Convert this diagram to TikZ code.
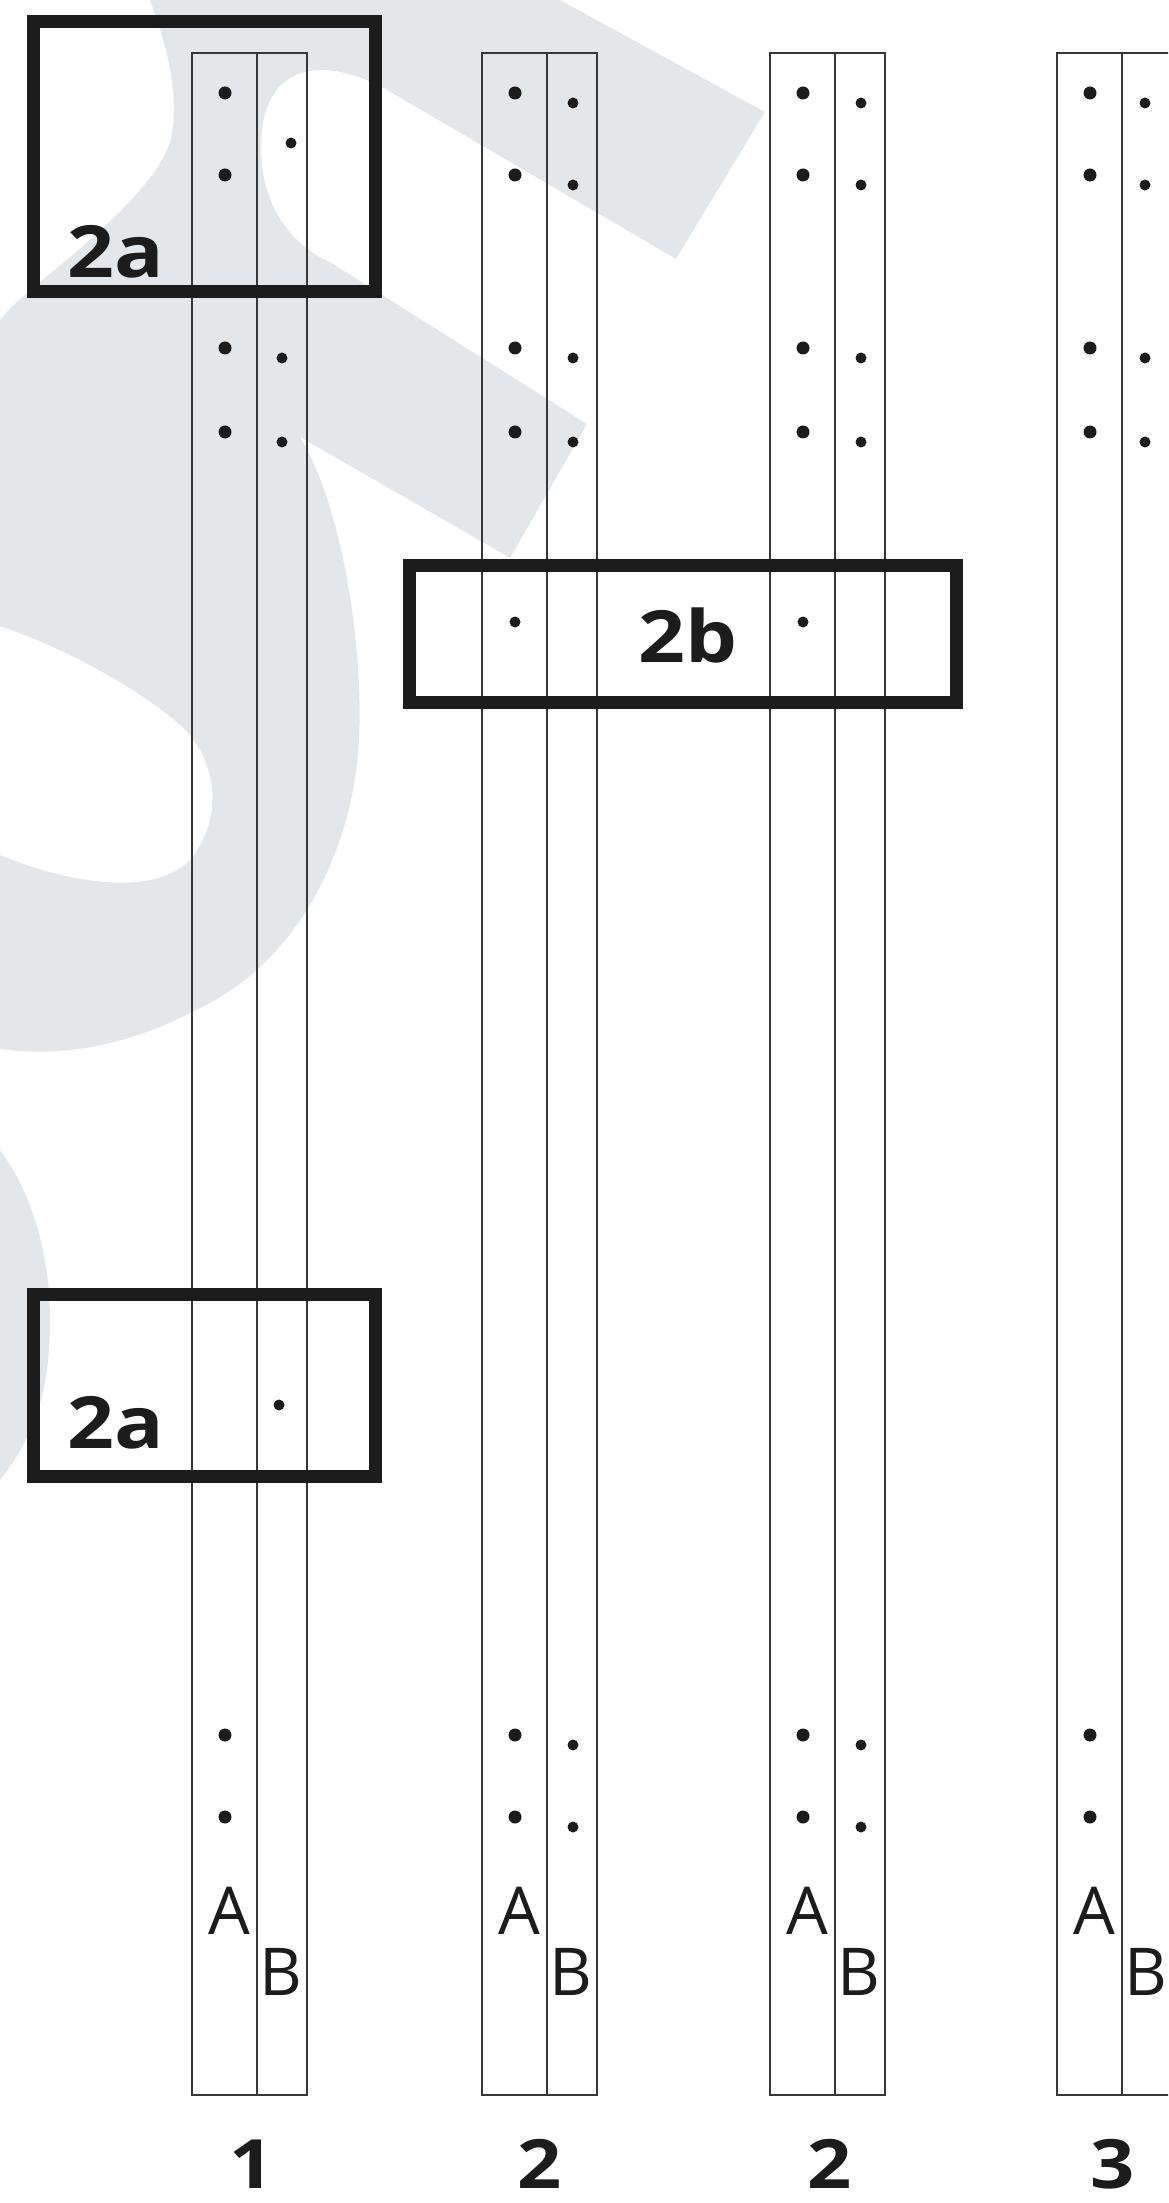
\documentclass[tikz,border=0pt]{standalone}
\usepackage{fontspec}
\setmainfont{Open Sans}
\newfontfamily\widefont[FakeStretch=1.14]{Open Sans}
\definecolor{wm}{RGB}{228,231,234}
\definecolor{ink}{RGB}{28,28,28}
\definecolor{stripline}{RGB}{55,55,55}
\begin{document}
\begin{tikzpicture}[x=0.5pt, y=-0.5pt,
  stripln/.style={draw=stripline, line width=1.2pt},
  framebox/.style={draw=ink, line width=6.5pt},
  dotL/.style={circle, fill=ink, inner sep=0pt, minimum size=6.5pt},
  dotS/.style={circle, fill=ink, inner sep=0pt, minimum size=5.5pt},
  boxlab/.style={font=\widefont\fontsize{36}{40}\selectfont\bfseries, text=ink, inner sep=0pt, anchor=base},
  numlab/.style={font=\widefont\fontsize{34}{38}\selectfont\bfseries, text=ink, inner sep=0pt, anchor=base},
  letlab/.style={font=\fontsize{33}{36}\selectfont, text=ink, inner sep=0pt, anchor=base}]
\useasboundingbox (0,0) rectangle (1168,2203);
\begin{scope}
\clip (0,0) rectangle (1168,2203);
% watermark
\fill[wm] (150,0) -- (560,0) -- (765,112) -- (676,259) -- (387,90)
  .. controls (330,58) and (270,60) .. (262,130)
  .. controls (255,200) and (290,245) .. (330,262)
  -- (587,424) -- (510,558) -- (300,437)
  .. controls (350,520) and (365,680) .. (358,753)
  .. controls (350,850) and (300,960) .. (200,1008)
  .. controls (150,1035) and (80,1060) .. (0,1049)
  -- (0,855)
  .. controls (60,880) and (150,900) .. (190,860)
  .. controls (230,810) and (210,750) .. (180,725)
  .. controls (140,690) and (70,650) .. (0,626)
  -- (0,320)
  .. controls (20,290) and (160,200) .. (172,134)
  .. controls (180,80) and (160,30) .. (150,0) -- cycle;
\fill[wm] (0,1150) .. controls (30,1190) and (50,1250) .. (50,1320)
  .. controls (50,1380) and (40,1430) .. (0,1480) -- cycle;
% strips
\foreach \L in {192,482,770,1057}{
  \draw[stripln] (\L,53) rectangle (\L+115,2095);
  \draw[stripln] (\L+65,53) -- (\L+65,2095);
}
\end{scope}
% dots, left columns
\foreach \x in {225,515,803,1090}{
  \foreach \y in {93,175,348,432,1735,1817}{
    \node[dotL] (dl-\x-\y) at (\x,\y) {};
  }
}
\node[dotS] (db2) at (515,622) {};
\node[dotS] (db3) at (803,622) {};
% dots, right columns
\node[dotS] (dr1a) at (291,143) {};
\node[dotS] (dr1b) at (282,358) {};
\node[dotS] (dr1c) at (282,442) {};
\node[dotS] (dr1d) at (279,1405) {};
\foreach \x in {573,861}{
  \foreach \y in {103,185,358,442,1745,1827}{
    \node[dotS] (dr-\x-\y) at (\x,\y) {};
  }
}
\foreach \y in {103,185,358,442}{
  \node[dotS] (dr4-\y) at (1145,\y) {};
}
% frames
\draw[framebox] (33.5,21.5) rectangle (375.5,291.5);
\draw[framebox] (33.5,1294.5) rectangle (375.5,1476.5);
\draw[framebox] (409.5,565.5) rectangle (956.5,702.5);
\node[boxlab] (f2a1) at (116,278) {2a};
\node[boxlab] (f2a2) at (116,1448) {2a};
\node[boxlab] (f2b) at (688,662) {2b};
% strip letters
\foreach \L/\n in {192/1,482/2,770/3,1057/4}{
  \node[letlab] (A\n) at (\L+37,1934) {A};
  \node[letlab] (B\n) at (\L+89,1995) {B};
}
% strip numbers
\node[numlab] (n1) at (252,2188) {1};
\node[numlab] (n2) at (540,2188) {2};
\node[numlab] (n3) at (830,2188) {2};
\node[numlab] (n4) at (1113,2188) {3};
\end{tikzpicture}
\end{document}
